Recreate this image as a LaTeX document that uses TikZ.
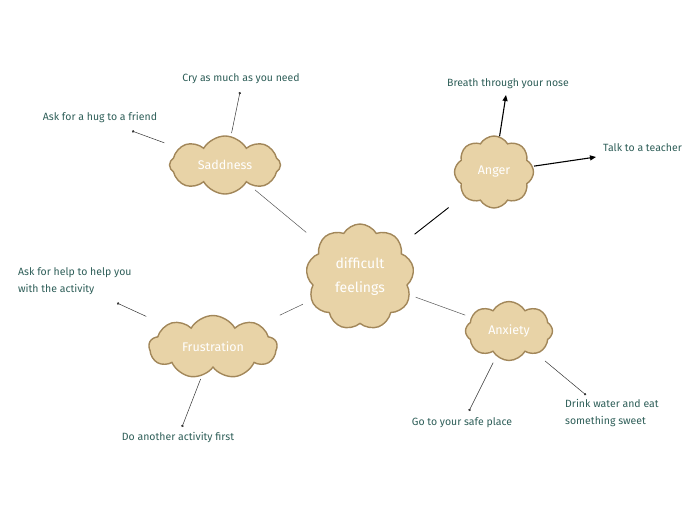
\documentclass[tikz,border=0pt]{standalone}
\usepackage{fontspec}
\setmainfont{Fira Sans}
\usetikzlibrary{shapes.symbols,arrows.meta}
\definecolor{cloudfill}{HTML}{E8D3A7}
\definecolor{clouddraw}{HTML}{A2875A}
\definecolor{labeltext}{HTML}{2E5E58}
\definecolor{linegray}{HTML}{555555}
\tikzset{
  bubble/.style={cloud, cloud puffs=8, cloud puff arc=120, cloud ignores aspect, draw=clouddraw, line width=1.4pt,
    fill=cloudfill, text=white, inner sep=0pt, font=\fontsize{12.5}{16}\selectfont, align=center},
  leaf/.style={text=labeltext, font=\fontsize{10.5}{17}\selectfont, inner sep=0pt},
  branch/.style={draw=linegray, line width=0.5pt},
  dotline/.style={draw=black!80, line width=0.5pt, -{Circle[length=2.4pt]}},
  arrowline/.style={draw=black, line width=1.1pt, -{Triangle[length=6pt,width=5pt]}}
}
\begin{document}
\begin{tikzpicture}[x=1pt,y=-1pt]
\useasboundingbox (0,0) rectangle (696,520);
% clouds
\node[bubble, minimum width=108pt, minimum height=106pt, cloud puffs=9, font=\fontsize{14}{24}\selectfont] (center) at (360,277) {difficult\\feelings};
\node[bubble, minimum width=111pt, minimum height=58pt] (sad) at (225,165) {Saddness};
\node[bubble, minimum width=79pt, minimum height=72pt] (anger) at (494,172) {Anger};
\node[bubble, minimum width=128pt, minimum height=63pt, cloud puffs=9] (frus) at (213,347) {Frustration};
\node[bubble, minimum width=87pt, minimum height=59pt] (anx) at (509,331) {Anxiety};
% labels
\node[leaf] (cry) at (241,79) {Cry as much as you need};
\node[leaf] (hug) at (100,118) {Ask for a hug to a friend};
\node[leaf] (breath) at (508,84) {Breath through your nose};
\node[leaf, anchor=west] (talk) at (603,148) {Talk to a teacher};
\node[leaf, anchor=north west, align=left] (help) at (18,267) {Ask for help to help you\\with the activity};
\node[leaf] (other) at (178,438) {Do another activity first};
\node[leaf] (safe) at (462,423) {Go to your safe place};
\node[leaf, anchor=north west, align=left] (drink) at (565,399) {Drink water and eat\\something sweet};
% connector end points
\coordinate (cryE) at (240,92);
\coordinate (hugE) at (132,131);
\coordinate (breathE) at (506,95);
\coordinate (talkE) at (596,157);
\coordinate (helpE) at (117,303);
\coordinate (otherE) at (182,427);
\coordinate (safeE) at (469,411);
\coordinate (drinkE) at (586,395);
% main branches
\draw[branch, shorten <=11pt, shorten >=17pt] (sad) -- (center);
\draw[branch, draw=black, line width=0.9pt, shorten <=17pt, shorten >=19pt] (center) -- (anger);
\draw[branch, shorten <=22pt, shorten >=9pt] (frus) -- (center);
\draw[branch, shorten <=6pt, shorten >=6pt] (center) -- (anx);
% child connectors
\draw[dotline, shorten <=3pt] (sad) -- (cryE);
\draw[dotline, shorten <=15pt] (sad) -- (hugE);
\draw[arrowline, shorten <=0pt] (anger) -- (breathE);
\draw[arrowline, shorten <=1pt] (anger) -- (talkE);
\draw[dotline, shorten <=21pt] (frus) -- (helpE);
\draw[dotline, shorten <=3pt] (frus) -- (otherE);
\draw[dotline, shorten <=7pt] (anx) -- (safeE);
\draw[dotline, shorten <=11pt] (anx) -- (drinkE);
\end{tikzpicture}
\end{document}
